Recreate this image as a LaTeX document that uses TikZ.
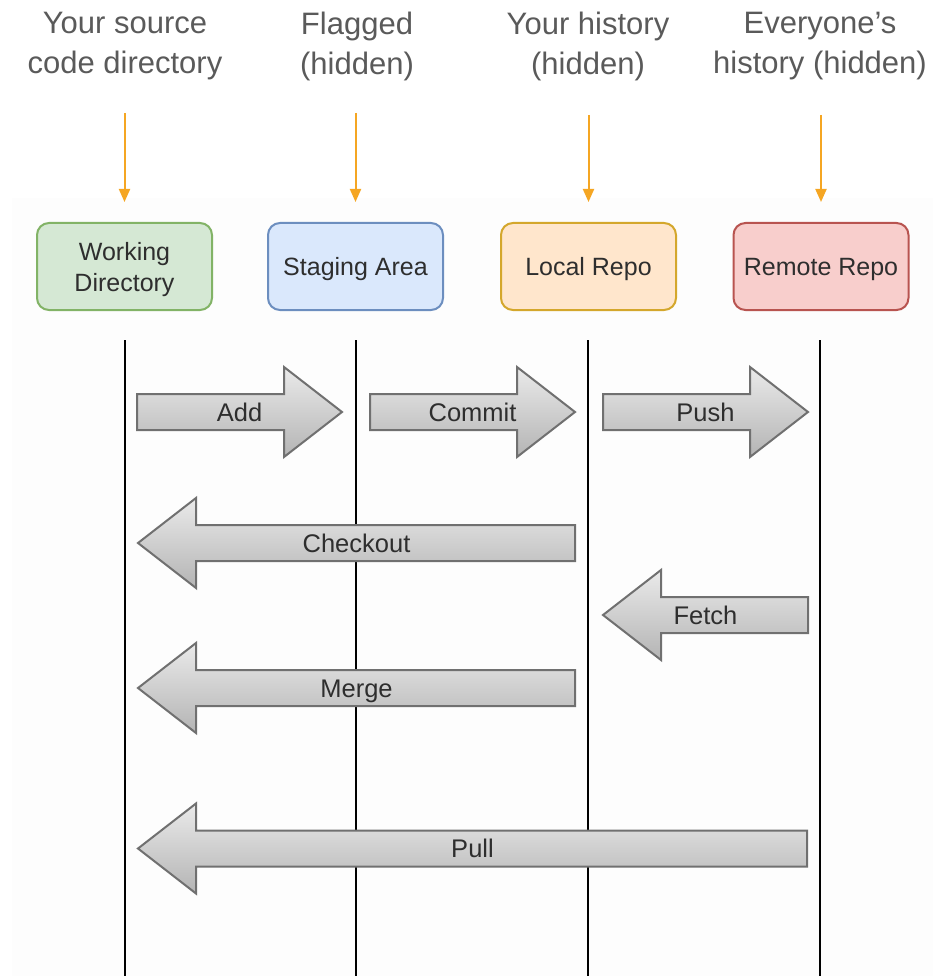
\documentclass[tikz,border=0pt]{standalone}
\usepackage{fontspec}
\setmainfont{Liberation Sans}
\usetikzlibrary{arrows.meta}
\definecolor{toptext}{HTML}{5A5A5A}
\definecolor{orangeln}{HTML}{F5A623}
\definecolor{wdfill}{HTML}{D5E8D4}\definecolor{wddraw}{HTML}{82B366}
\definecolor{safill}{HTML}{DAE8FC}\definecolor{sadraw}{HTML}{6C8EBF}
\definecolor{lrfill}{HTML}{FFE6CC}\definecolor{lrdraw}{HTML}{D4A72C}
\definecolor{rrfill}{HTML}{F8CECC}\definecolor{rrdraw}{HTML}{B85450}
\definecolor{arrowedge}{HTML}{707070}
\definecolor{arrowtop}{HTML}{EAEAEA}
\definecolor{arrowbot}{HTML}{B4B4B4}
\definecolor{labeltext}{HTML}{2E2E2E}
\definecolor{bgpanel}{HTML}{FDFDFD}
\tikzset{
  toplabel/.style={align=center, text=toptext, inner sep=0pt,
    font=\fontsize{31}{40}\selectfont},
  pointer/.style={draw=orangeln, line width=2pt, shorten >=20pt,
    -{Triangle[length=13pt,width=11pt]}},
  repobox/.style={rounded corners=12pt, line width=2pt, minimum width=175pt,
    minimum height=87pt, inner sep=0pt, align=center, text=labeltext,
    text height=18pt, text depth=0pt,
    font=\fontsize{25}{31}\selectfont},
  lane/.style={draw=black, line width=2.5pt},
  blockarrow/.style={draw=arrowedge, line width=2pt, top color=arrowtop,
    bottom color=arrowbot, line join=miter},
  arrowlabel/.style={inner sep=0pt, text=labeltext, text height=18.3pt,
    text depth=0pt, font=\fontsize{25.5}{30}\selectfont}
}
\newcommand{\rarrow}[3]{% left x, tip x, center y
  \path[blockarrow] (#1,#3-18) -- (#2-58,#3-18) -- (#2-58,#3-45) -- (#2,#3)
    -- (#2-58,#3+45) -- (#2-58,#3+18) -- (#1,#3+18) -- cycle;}
\newcommand{\larrow}[3]{% tip x, right x, center y
  \path[blockarrow] (#2,#3-18) -- (#1+58,#3-18) -- (#1+58,#3-45) -- (#1,#3)
    -- (#1+58,#3+45) -- (#1+58,#3+18) -- (#2,#3+18) -- cycle;}
\begin{document}
\begin{tikzpicture}[x=1pt,y=-1pt]
\useasboundingbox (0,0) rectangle (945,976);
\fill[bgpanel] (12,198) rectangle (933,976);

% top labels
\node[toplabel] (t1) at (125,46) {Your source\\code directory};
\node[toplabel] (t2) at (357,46) {Flagged\\(hidden)};
\node[toplabel] (t3) at (588,46) {Your history\\(hidden)};
\node[toplabel] (t4) at (820,46) {Everyone’s\\history (hidden)};

% boxes
\node[repobox, fill=wdfill, draw=wddraw, text height=49pt] (wd) at (124.5,266.5) {Working\\Directory};
\node[repobox, fill=safill, draw=sadraw] (sa) at (355.5,266.5) {Staging Area};
\node[repobox, fill=lrfill, draw=lrdraw] (lr) at (588.5,266.5) {Local Repo};
\node[repobox, fill=rrfill, draw=rrdraw] (rr) at (821,266.5) {Remote Repo};

% pointer starts
\coordinate (p1) at (124.5,113);
\coordinate (p2) at (355.5,113);
\coordinate (p3) at (588.5,115);
\coordinate (p4) at (821,115);
\draw[pointer] (p1) -- (wd.north);
\draw[pointer] (p2) -- (sa.north);
\draw[pointer] (p3) -- (lr.north);
\draw[pointer] (p4) -- (rr.north);

% lanes
\coordinate (l1t) at (125,340); \coordinate (l1b) at (125,976);
\coordinate (l2t) at (356,340); \coordinate (l2b) at (356,976);
\coordinate (l3t) at (588,340); \coordinate (l3b) at (588,976);
\coordinate (l4t) at (820,340); \coordinate (l4b) at (820,976);
\draw[lane] (l1t) -- (l1b);
\draw[lane] (l2t) -- (l2b);
\draw[lane] (l3t) -- (l3b);
\draw[lane] (l4t) -- (l4b);

% block arrows
\rarrow{137}{342}{412}
\node[arrowlabel] (add) at (239.5,412) {Add};
\rarrow{370}{575}{412}
\node[arrowlabel] (commit) at (472.5,412) {Commit};
\rarrow{603}{808}{412}
\node[arrowlabel] (push) at (705.5,412) {Push};
\larrow{138}{575}{543}
\node[arrowlabel] (checkout) at (356.5,543) {Checkout};
\larrow{603}{808}{615}
\node[arrowlabel] (fetch) at (705.5,615) {Fetch};
\larrow{138}{575}{688}
\node[arrowlabel] (merge) at (356.5,688) {Merge};
\larrow{138}{807}{848.5}
\node[arrowlabel] (pull) at (472.5,848.5) {Pull};
\end{tikzpicture}
\end{document}
